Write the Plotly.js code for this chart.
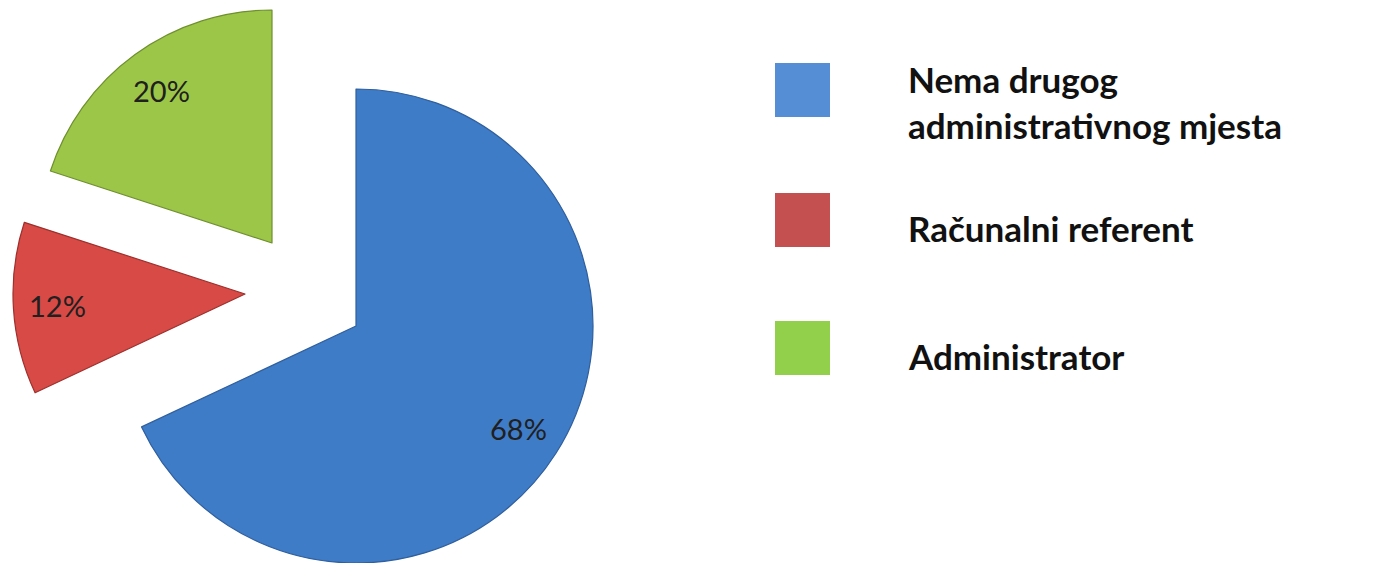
<!DOCTYPE html>
<html>
<head>
<meta charset="utf-8">
<script src="https://cdn.plot.ly/plotly-3.0.1.min.js"></script>
<style>
  html, body { margin: 0; padding: 0; background: #fff; }
  #chart { width: 1396px; height: 563px; }
</style>
</head>
<body>
<div id="chart"></div>
<script>
// ---- data ----
var labels = ["Nema drugog administrativnog mjesta", "Računalni referent", "Administrator"];
var legendLines = [["Nema drugog", "administrativnog mjesta"], ["Računalni referent"], ["Administrator"]];
var values = [68, 12, 20];
var sliceColors = ["#3f7cc8", "#d84a46", "#9cc647"];
var sliceEdges = ["#2f5f9c", "#9c302d", "#6f8f2f"];
var legendColors = ["#568ed6", "#c4504f", "#92cf4b"];

// ---- layout helpers (geometry only) ----
var W = 1396, H = 563;
// each slice drawn by its own pie trace so that every slice can be exploded freely
var centers = [ {cx: 356, cy: 326, r: 237}, {cx: 245, cy: 294, r: 232}, {cx: 272, cy: 243, r: 233} ];
var labelRadiusFrac = 0.81;
function domainFor(c) {
  return {
    x: [(c.cx - c.r) / W, (c.cx + c.r) / W],
    y: [Math.max(0, 1 - (c.cy + c.r) / H), Math.min(1, 1 - (c.cy - c.r) / H)]
  };
}
var total = values.reduce(function (a, b) { return a + b; }, 0);
var pctText = values.map(function (v) { return Math.round(v / total * 100) + "%"; });

var traces = values.map(function (_, k) {
  return {
    type: "pie",
    labels: labels,
    values: values,
    sort: false,
    direction: "clockwise",
    rotation: 0,
    domain: domainFor(centers[k]),
    textinfo: "none",
    marker: {
      colors: sliceColors.map(function (c, i) { return i === k ? c : "rgba(0,0,0,0)"; }),
      line: {
        color: sliceEdges.map(function (c, i) { return i === k ? c : "rgba(0,0,0,0)"; }),
        width: 1.2
      }
    },
    hoverinfo: "skip",
    showlegend: false
  };
});

var shapes = [], annotations = [];

// ---- percentage labels: placed along each slice's mid-angle (best-fit style) ----
var cum = 0;
values.forEach(function (v, i) {
  var midDeg = (cum + v / 2) / total * 360;
  cum += v;
  var a = midDeg * Math.PI / 180;
  var c = centers[i];
  var px = c.cx + labelRadiusFrac * c.r * Math.sin(a);
  var py = c.cy - labelRadiusFrac * c.r * Math.cos(a);
  annotations.push({
    xref: "paper", yref: "paper", x: px / W, y: 1 - py / H,
    xanchor: "center", yanchor: "middle",
    text: pctText[i], showarrow: false,
    font: { family: "Lato, 'Open Sans', sans-serif", size: 29, color: "#202020" }
  });
});

// ---- custom legend (large squares + bold labels) ----
var legendRowsY = [90, 220, 348];   // row centres in px
legendColors.forEach(function (c, i) {
  var yc = legendRowsY[i];
  shapes.push({
    type: "rect", xref: "paper", yref: "paper",
    x0: 775 / W, x1: 830 / W, y0: 1 - (yc + 27) / H, y1: 1 - (yc - 27) / H,
    fillcolor: c, line: { width: 0 }
  });
  annotations.push({
    xref: "paper", yref: "paper",
    x: 906 / W, y: 1 - (yc + (i === 0 ? 12 : 8)) / H,
    xanchor: "left", yanchor: "middle", align: "left",
    text: legendLines[i].join("<br>"),
    showarrow: false,
    font: { family: "Lato, 'Open Sans', sans-serif", size: 35, color: "#111111", weight: "bold" }
  });
});

var layout = {
  width: W, height: H,
  margin: { l: 0, r: 0, t: 0, b: 0 },
  paper_bgcolor: "#ffffff",
  plot_bgcolor: "#ffffff",
  showlegend: false,
  shapes: shapes,
  annotations: annotations
};

Plotly.newPlot("chart", traces, layout, { displayModeBar: false, staticPlot: true });
</script>
</body>
</html>
